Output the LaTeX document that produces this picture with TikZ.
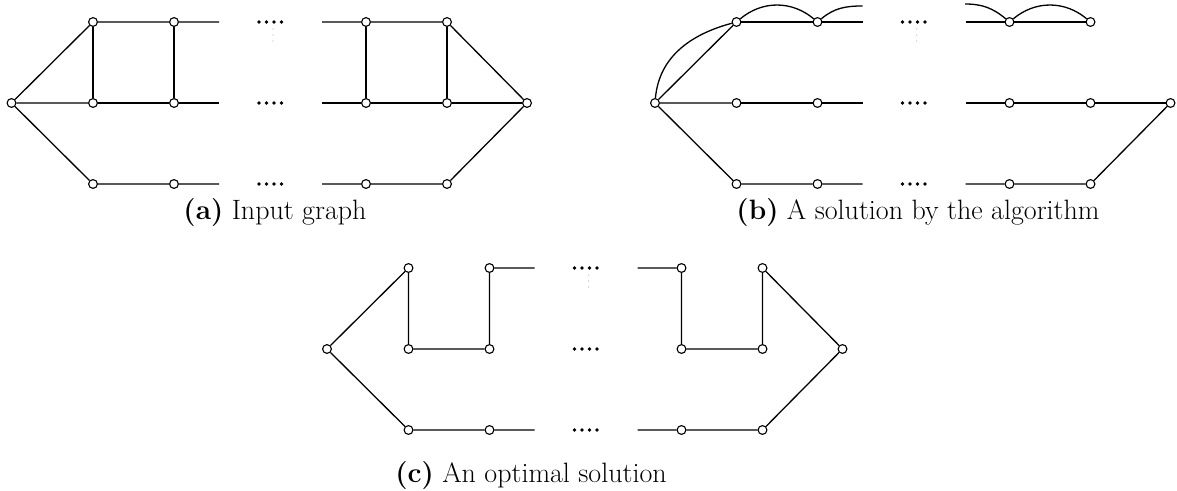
\documentclass[tikz,border=0pt]{standalone}
\begin{document}
\begin{tikzpicture}[x=1pt,y=1pt,
  v/.style={circle,draw,fill=white,inner sep=0pt,minimum size=8.8pt,line width=1.1pt},
  e/.style={line width=1.3pt},
  dotmark/.style={fill=black},
  faint/.style={fill=black!30},
  captxt/.style={font=\fontsize{28}{34}\selectfont,inner sep=0pt}
]
\useasboundingbox (0,0) rectangle (1177,490);
\newcommand\mkpanel[1]{%
  \node[v] (#1L) at (11.5,387) {};
  \node[v] (#1T1) at (93,468) {};
  \node[v] (#1T2) at (174,468) {};
  \node[v] (#1T3) at (366,468) {};
  \node[v] (#1T4) at (447,468) {};
  \node[v] (#1M1) at (93,387) {};
  \node[v] (#1M2) at (174,387) {};
  \node[v] (#1M3) at (366,387) {};
  \node[v] (#1M4) at (447,387) {};
  \node[v] (#1B1) at (93,306) {};
  \node[v] (#1B2) at (174,306) {};
  \node[v] (#1B3) at (366,306) {};
  \node[v] (#1B4) at (447,306) {};
  \node[v] (#1R) at (527,387) {};
  \coordinate (#1Te) at (219,468);
  \coordinate (#1Ts) at (322,468);
  \coordinate (#1Me) at (219,387);
  \coordinate (#1Ms) at (322,387);
  \coordinate (#1Be) at (219,306);
  \coordinate (#1Bs) at (322,306);
  \foreach \yy in {468,387,306}{
    \foreach \i in {0,1,2,3}{\fill[dotmark] (259+\i*7.5,\yy) circle[radius=1.8pt];}
  }
  \foreach \yy in {461,455,449}{\fill[faint] (273,\yy) circle[radius=0.6pt];}
}
% (a) Input graph
\begin{scope}
\mkpanel{a}
\draw[e] (aL)--(aT1) (aL)--(aM1) (aL)--(aB1);
\draw[e] (aT1)--(aT2)--(aTe) (aTs)--(aT3)--(aT4)--(aR);
\draw[e] (aM1)--(aM2)--(aMe) (aMs)--(aM3)--(aM4)--(aR);
\draw[e] (aB1)--(aB2)--(aBe) (aBs)--(aB3)--(aB4)--(aR);
\draw[e] (aT1)--(aM1) (aT2)--(aM2) (aT3)--(aM3) (aT4)--(aM4);
\end{scope}
% (b) solution by the algorithm
\begin{scope}[shift={(643.5,0)}]
\mkpanel{b}
\coordinate (bTa) at (219,484);
\coordinate (bTb) at (321.5,486);
\draw[e] (bL)--(bT1) (bL)--(bM1) (bL)--(bB1);
\draw[e] (bL) to[out=85,in=195] (bT1);
\draw[e] (bT1) to[bend left=40] (bT2);
\draw[e] (bT2) to[out=40,in=180] (bTa);
\draw[e] (bTb) to[out=0,in=140] (bT3);
\draw[e] (bT3) to[bend left=40] (bT4);
\draw[e] (bT1)--(bT2)--(bTe) (bTs)--(bT3)--(bT4);
\draw[e] (bM1)--(bM2)--(bMe) (bMs)--(bM3)--(bM4)--(bR);
\draw[e] (bB1)--(bB2)--(bBe) (bBs)--(bB3)--(bB4)--(bR);
\end{scope}
% (c) optimal solution
\begin{scope}[shift={(315.5,-246)}]
\mkpanel{c}
\draw[e] (cL)--(cT1)--(cM1)--(cM2)--(cT2)--(cTe);
\draw[e] (cTs)--(cT3)--(cM3)--(cM4)--(cT4)--(cR);
\draw[e] (cL)--(cB1)--(cB2)--(cBe);
\draw[e] (cBs)--(cB3)--(cB4)--(cR);
\end{scope}
\node[captxt] (capa) at (275,277) {\textbf{(a)} Input graph};
\node[captxt] (capb) at (918,277) {\textbf{(b)} A solution by the algorithm};
\node[captxt] (capc) at (531,14) {\textbf{(c)} An optimal solution};
\end{tikzpicture}
\end{document}
